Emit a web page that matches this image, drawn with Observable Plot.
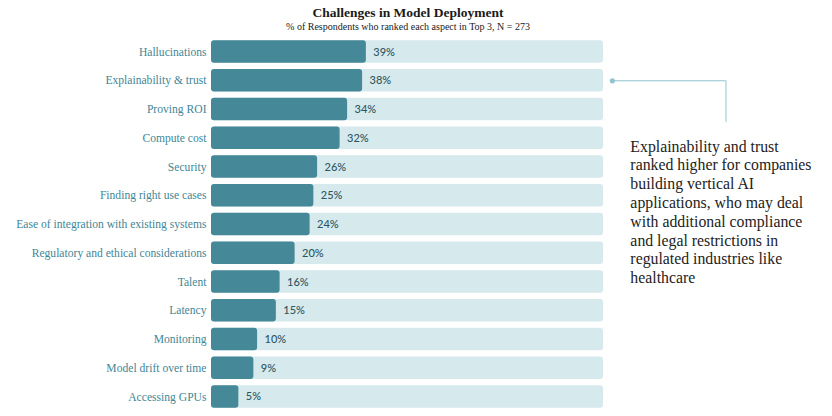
<!DOCTYPE html>
<html>
<head>
<meta charset="utf-8">
<script src="https://cdn.jsdelivr.net/npm/d3@7"></script>
<script src="https://cdn.jsdelivr.net/npm/@observablehq/plot@0.6"></script>
<style>
  html, body { margin: 0; padding: 0; background: #fff; }
  #wrap { width: 832px; height: 416px; overflow: hidden; }
  #head { height: 34px; width: 816px; text-align: center; font-family: "Liberation Serif", serif; color: #1a1a1a; }
  #title { font-size: 13.5px; font-weight: bold; line-height: 13px; padding-top: 6px; }
  #subtitle { font-size: 10px; line-height: 10px; padding-top: 3px; }
</style>
</head>
<body>
<div id="wrap">
  <div id="head">
    <div id="title">Challenges in Model Deployment</div>
    <div id="subtitle">% of Respondents who ranked each aspect in Top 3, N = 273</div>
  </div>
  <div id="chart"></div>
</div>
<script>
const categories = [
  "Hallucinations",
  "Explainability & trust",
  "Proving ROI",
  "Compute cost",
  "Security",
  "Finding right use cases",
  "Ease of integration with existing systems",
  "Regulatory and ethical considerations",
  "Talent",
  "Latency",
  "Monitoring",
  "Model drift over time",
  "Accessing GPUs"
];
const values = [39, 38, 34, 32, 26, 25, 24, 20, 16, 15, 10, 9, 5];
const maxValue = 100;

const annotationTarget = "Explainability & trust";
const annotationLines = [
  "Explainability and trust",
  "ranked higher for companies",
  "building vertical AI",
  "applications, who may deal",
  "with additional compliance",
  "and legal restrictions in",
  "regulated industries like",
  "healthcare"
];

const data = categories.map((name, i) => ({name, value: values[i]}));

const barColor = "#458897";
const trackColor = "#d6e9ed";
const labelColor = "#3f8696";
const valueColor = "#2d5661";
const lineColor = "#93c3cd";

const chart = Plot.plot({
  width: 832,
  height: 382,
  marginLeft: 219.6,
  marginRight: 0,
  marginTop: 0,
  marginBottom: 2,
  style: {background: "transparent"},
  x: {domain: [0, 163.3], axis: null},
  y: {domain: categories, padding: 0.22, round: false, label: null},
  marks: [
    Plot.barX(categories, {x1: 0, x2: maxValue, y: d => d, fill: trackColor, rx: 3, insetLeft: -8.6, insetRight: -8.4}),
    Plot.barX(data, {x: "value", y: "name", fill: barColor, rx: 3, insetLeft: -8.6}),
    Plot.text(data, {x: "value", y: "name", text: d => d.value + "%", dx: 7, textAnchor: "start", fill: valueColor, fontFamily: "Lato, sans-serif", fontSize: 11, fontWeight: 500}),
    Plot.axisY({tickSize: 0, tickPadding: 13.6, color: labelColor, fontFamily: "Liberation Serif, serif", fontSize: 11.6, label: null}),
    Plot.ruleY([annotationTarget], {y: d => d, x1: maxValue + 4.6, x2: maxValue + 34.9, stroke: lineColor, strokeWidth: 1}),
    Plot.ruleX([annotationTarget], {x: maxValue + 34.9, y1: d => d, y2: () => "Proving ROI", stroke: lineColor, strokeWidth: 1, insetTop: 11.2, insetBottom: -1.7}),
    Plot.dot([annotationTarget], {x: maxValue + 4.6, y: d => d, r: 2.6, fill: lineColor}),
    Plot.text([annotationLines.join("\n")], {x: maxValue + 9.4, y: () => annotationTarget, dy: 57.4, text: d => d, textAnchor: "start", lineAnchor: "top", lineHeight: 1.19, fontFamily: "Liberation Serif, serif", fontSize: 15.8, fill: "#222"})
  ]
});
document.getElementById("chart").appendChild(chart);
</script>
</body>
</html>
